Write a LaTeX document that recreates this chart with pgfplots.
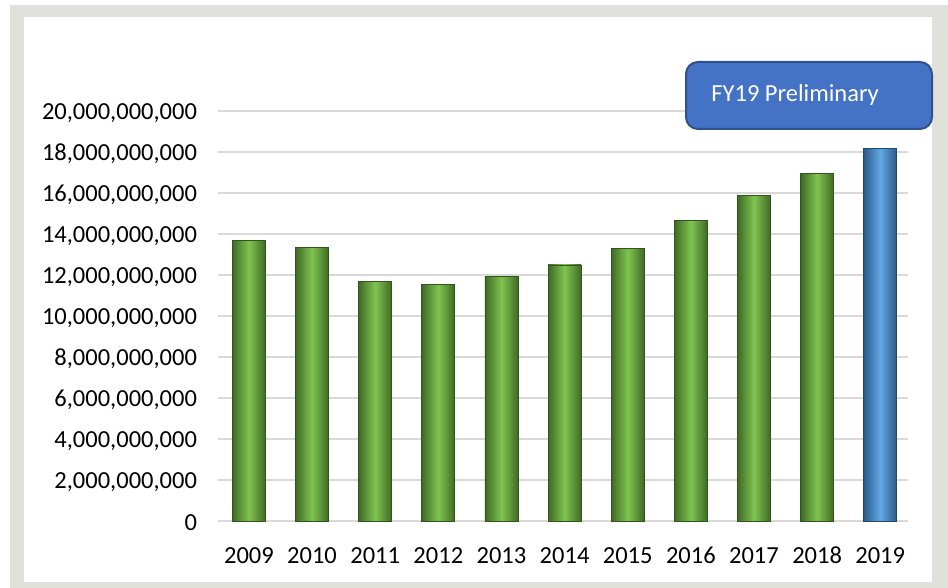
\documentclass[border=0pt]{standalone}
\usepackage{pgfplots}
\pgfplotsset{compat=1.18}
\usepackage{fontspec}
\setmainfont{Carlito}
\definecolor{framegray}{HTML}{DFE1DA}
\definecolor{gridgray}{HTML}{D9D9D9}
\definecolor{gdark}{HTML}{3F6A25}
\definecolor{glight}{HTML}{80C450}
\definecolor{bdark}{HTML}{2A5A88}
\definecolor{blight}{HTML}{62A8E4}
\definecolor{calfill}{HTML}{4472C4}
\definecolor{caldraw}{HTML}{2F528F}
\begin{document}
\begin{tikzpicture}
\fill[white] (0,0) rectangle (474pt,-294pt);
\fill[framegray] (5pt,-2.5pt) rectangle (474pt,-294pt);
\fill[white] (12pt,-8.5pt) rectangle (466pt,-291pt);
\begin{axis}[
  at={(109pt,-260.5pt)}, anchor=south west,
  scale only axis, width=345pt, height=205pt,
  xmin=-0.49, xmax=10.44, ymin=0, ymax=2e10,
  xtick={0,1,2,3,4,5,6,7,8,9,10},
  xticklabels={2009,2010,2011,2012,2013,2014,2015,2016,2017,2018,2019},
  ytick={0,2e9,4e9,6e9,8e9,1e10,1.2e10,1.4e10,1.6e10,1.8e10,2e10},
  scaled y ticks=false,
  yticklabel style={/pgf/number format/fixed, /pgf/number format/precision=0,
     /pgf/number format/1000 sep={,}, /pgf/number format/assume math mode=true,
     anchor=east, xshift=-7pt, yshift=-1pt},
  xticklabel style={anchor=base, yshift=-21pt},
  tick label style={font=\fontsize{12.25}{14}\selectfont, text=black},
  major tick length=0pt,
  axis line style={draw=none},
  ymajorgrids, grid style={draw=gridgray, line width=1pt},
  ybar, bar width=16.5pt, bar shift=0pt,
  clip=false,
  gbar/.style={draw=gdark!80!black, line width=0.4pt, left color=gdark, right color=gdark, middle color=glight},
  bbar/.style={draw=bdark!80!black, line width=0.4pt, left color=bdark, right color=bdark, middle color=blight},
]
\addplot[gbar] coordinates {(0,1.370e10)};
\addplot[gbar] coordinates {(1,1.335e10)};
\addplot[gbar] coordinates {(2,1.167e10)};
\addplot[gbar] coordinates {(3,1.156e10)};
\addplot[gbar] coordinates {(4,1.195e10)};
\addplot[gbar] coordinates {(5,1.249e10)};
\addplot[gbar] coordinates {(6,1.330e10)};
\addplot[gbar] coordinates {(7,1.465e10)};
\addplot[gbar] coordinates {(8,1.587e10)};
\addplot[gbar] coordinates {(9,1.694e10)};
\addplot[bbar] coordinates {(10,1.816e10)};
\end{axis}
\draw[fill=calfill, draw=caldraw, line width=1pt, rounded corners=6pt] (343pt,-31pt) rectangle (466pt,-64.5pt);
\node[anchor=west, text=white, inner sep=0pt, font=\fontsize{12.25}{14}\selectfont] at (355.5pt,-47.5pt) {FY19 Preliminary};
\pgfresetboundingbox
\path[use as bounding box] (0,0) rectangle (474pt,-294pt);
\end{tikzpicture}
\end{document}
